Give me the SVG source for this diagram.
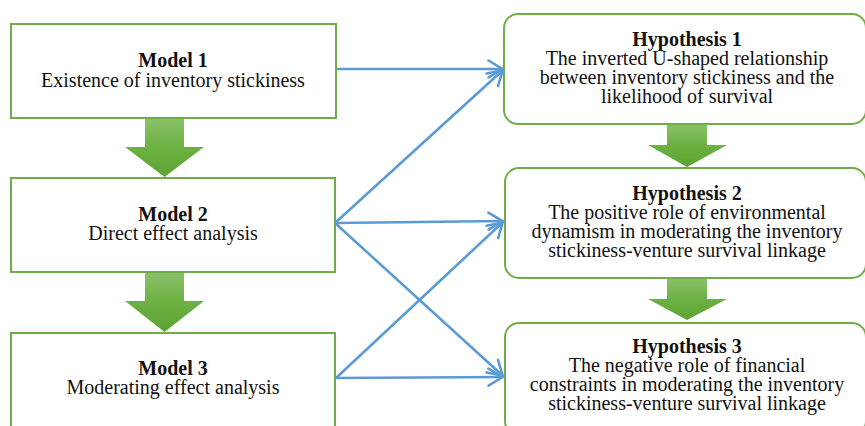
<svg xmlns="http://www.w3.org/2000/svg" width="865" height="426" viewBox="0 0 865 426">
<style>
.box{fill:#fff;stroke:#70AD47;stroke-width:2}
.t{font-family:"Liberation Serif","Times New Roman",serif;font-size:20px;fill:#111;text-anchor:middle}
.b{font-weight:bold}
.c{stroke:#5B9BD5;stroke-width:2.6;fill:none}
.g{fill:url(#gg)}
</style>
<defs>
<linearGradient id="gg" x1="0" y1="0" x2="0" y2="1">
<stop offset="0" stop-color="#8BC16A"/>
<stop offset="0.5" stop-color="#6DB142"/>
<stop offset="1" stop-color="#5FA234"/>
</linearGradient>
<marker id="ah" markerUnits="userSpaceOnUse" viewBox="0 0 18 20" refX="16.5" refY="10" markerWidth="18" markerHeight="20" orient="auto">
<path d="M2,1.5 L16,10 L2,18.5" fill="none" stroke="#5B9BD5" stroke-width="2.6" stroke-linecap="round" stroke-linejoin="miter"/>
</marker>
</defs>
<rect width="865" height="426" fill="#fff"/>
<g id="flow-arrows">
<path class="g" d="M145,118 H184 V147 H204 L164.5,177 L125,147 H145 Z"/>
<path class="g" d="M145,272 H184 V301 H204 L164.5,332 L125,301 H145 Z"/>
<path class="g" d="M667,124 H707 V145 H727 L687,167 L648,145 H667 Z"/>
<path class="g" d="M667,278 H707 V299 H727 L687,320 L648,299 H667 Z"/>
</g>
<g id="model1">
<rect class="box" x="11" y="24" width="325" height="94"/>
<text class="t b" x="173" y="67">Model 1</text>
<text class="t" x="173" y="87">Existence of inventory stickiness</text>
</g>
<g id="model2">
<rect class="box" x="11" y="178" width="324" height="94"/>
<text class="t b" x="173" y="221">Model 2</text>
<text class="t" x="173" y="240">Direct effect analysis</text>
</g>
<g id="model3">
<rect class="box" x="11" y="333" width="324" height="96"/>
<text class="t b" x="173" y="375">Model 3</text>
<text class="t" x="173" y="394">Moderating effect analysis</text>
</g>
<g id="hyp1">
<rect class="box" x="504" y="14" width="362" height="110" rx="14"/>
<text class="t b" x="687" y="46">Hypothesis 1</text>
<text class="t" x="687" y="65">The inverted U-shaped relationship</text>
<text class="t" x="687" y="84">between inventory stickiness and the</text>
<text class="t" x="687" y="103">likelihood of survival</text>
</g>
<g id="hyp2">
<rect class="box" x="505" y="168" width="361" height="110" rx="14"/>
<text class="t b" x="687" y="200">Hypothesis 2</text>
<text class="t" x="687" y="219">The positive role of environmental</text>
<text class="t" x="687" y="238">dynamism in moderating the inventory</text>
<text class="t" x="687" y="257">stickiness-venture survival linkage</text>
</g>
<g id="hyp3">
<rect class="box" x="505" y="323" width="361" height="112" rx="14"/>
<text class="t b" x="687" y="353">Hypothesis 3</text>
<text class="t" x="687" y="372">The negative role of financial</text>
<text class="t" x="687" y="391">constraints in moderating the inventory</text>
<text class="t" x="687" y="410">stickiness-venture survival linkage</text>
</g>
<g id="connectors">
<line class="c" x1="337" y1="69" x2="503" y2="69" marker-end="url(#ah)"/>
<line class="c" x1="335" y1="223" x2="503" y2="70" marker-end="url(#ah)"/>
<line class="c" x1="335" y1="223" x2="503" y2="221" marker-end="url(#ah)"/>
<line class="c" x1="335" y1="223" x2="503" y2="376" marker-end="url(#ah)"/>
<line class="c" x1="336" y1="378" x2="503" y2="222" marker-end="url(#ah)"/>
<line class="c" x1="336" y1="378" x2="503" y2="377" marker-end="url(#ah)"/>
</g>
</svg>
